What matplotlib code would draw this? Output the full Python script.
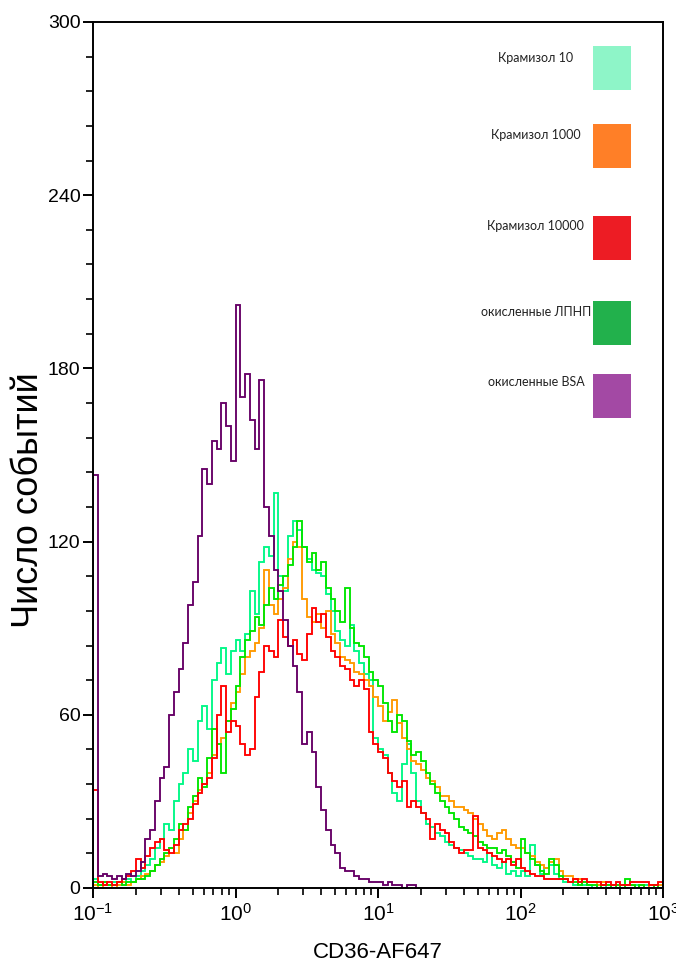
import numpy as np
import matplotlib
matplotlib.use('Agg')
import matplotlib.pyplot as plt
from matplotlib.ticker import MultipleLocator, LogLocator, NullFormatter
from matplotlib.patches import Rectangle

# Гистограммы CD36-AF647: 30 каналов на декаду, от 10^-1 до 10^3
edges = np.logspace(-1, 3, 121)

kramizol_10 = [
    3, 1, 2, 1, 2, 1, 2, 3, 2, 4,
    6, 8, 10, 14, 17, 22, 20, 30, 36, 40,
    48, 44, 58, 63, 55, 72, 78, 83, 74, 82,
    86, 82, 88, 103, 95, 113, 118, 115, 137, 108,
    103, 122, 127, 124, 118, 114, 110, 109, 108, 102,
    96, 89, 86, 84, 91, 82, 78, 74, 72, 52,
    48, 46, 40, 33, 30, 43, 50, 40, 30, 26,
    22, 21, 19, 18, 16, 15, 14, 13, 12, 11,
    10, 10, 9, 12, 8, 7, 9, 5, 6, 4,
    6, 4, 15, 8, 5, 7, 8, 5, 3, 2,
    2, 1, 2, 1, 1, 0, 1, 1, 0, 1,
    0, 1, 0, 0, 1, 0, 1, 0, 1, 1,
]

kramizol_1000 = [
    1, 0, 1, 1, 0, 1, 2, 1, 2, 3,
    4, 5, 6, 8, 9, 11, 14, 12, 17, 20,
    26, 30, 34, 36, 40, 46, 50, 52, 58, 64,
    68, 74, 80, 82, 85, 90, 110, 98, 95, 100,
    104, 114, 120, 118, 100, 94, 92, 95, 90, 96,
    88, 85, 80, 79, 78, 75, 74, 72, 70, 66,
    63, 58, 61, 65, 57, 52, 48, 44, 43, 41,
    38, 37, 35, 32, 32, 30, 28, 28, 27, 26,
    24, 22, 20, 18, 17, 19, 20, 17, 15, 14,
    14, 12, 11, 9, 8, 7, 9, 10, 6, 4,
    4, 3, 3, 2, 2, 2, 1, 2, 1, 1,
    1, 0, 1, 1, 0, 1, 0, 1, 0, 1,
]

kramizol_10000 = [
    34, 2, 1, 2, 1, 2, 3, 4, 6, 10,
    7, 11, 14, 16, 17, 13, 12, 15, 20, 22,
    24, 29, 33, 36, 38, 45, 60, 70, 54, 58,
    56, 50, 46, 48, 66, 75, 84, 82, 80, 93,
    87, 84, 86, 81, 79, 88, 97, 92, 95, 87,
    82, 80, 77, 76, 72, 70, 72, 69, 54, 50,
    47, 45, 40, 37, 35, 37, 28, 30, 28, 26,
    24, 17, 22, 20, 19, 16, 14, 12, 13, 13,
    25, 14, 13, 12, 11, 10, 9, 10, 8, 10,
    7, 6, 5, 4, 4, 3, 3, 3, 3, 3,
    2, 3, 2, 3, 2, 2, 2, 1, 2, 1,
    2, 1, 1, 2, 2, 2, 2, 1, 1, 2,
]

ox_ldl = [
    2, 1, 2, 1, 1, 2, 1, 2, 2, 3,
    3, 4, 6, 8, 10, 12, 14, 17, 22, 20,
    28, 32, 38, 35, 45, 55, 50, 40, 58, 62,
    70, 80, 86, 89, 94, 91, 98, 104, 100, 105,
    108, 112, 118, 127, 118, 113, 116, 110, 113, 104,
    100, 96, 92, 104, 90, 85, 84, 80, 75, 72,
    70, 64, 58, 54, 60, 58, 51, 46, 47, 44,
    40, 36, 33, 30, 28, 26, 24, 21, 20, 19,
    18, 16, 15, 14, 14, 12, 13, 11, 9, 7,
    17, 12, 10, 8, 6, 5, 10, 8, 4, 3,
    2, 2, 1, 2, 1, 1, 0, 1, 1, 0,
    1, 0, 3, 1, 0, 1, 0, 0, 1, 0,
]

ox_bsa = [
    143, 4, 5, 4, 3, 4, 3, 5, 4, 6,
    9, 17, 20, 30, 38, 42, 60, 68, 76, 85,
    98, 106, 122, 145, 140, 155, 152, 168, 160, 148,
    202, 170, 178, 162, 152, 176, 132, 122, 110, 103,
    93, 84, 77, 68, 50, 54, 47, 35, 27, 20,
    15, 12, 7, 6, 6, 4, 3, 3, 2, 2,
    2, 1, 2, 1, 1, 0, 1, 1, 0, 0,
    0, 0, 0, 0, 0, 0, 0, 0, 0, 0,
    0, 0, 0, 0, 0, 0, 0, 0, 0, 0,
    0, 0, 0, 0, 0, 0, 0, 0, 0, 0,
    0, 0, 0, 0, 0, 0, 0, 0, 0, 0,
    0, 0, 0, 0, 0, 0, 0, 0, 0, 0,
]

legend_labels = ['Крамизол 10', 'Крамизол 1000', 'Крамизол 10000',
                 'окисленные ЛПНП', 'окисленные BSA']
legend_colors = ['#8EF5C8', '#FF7F27', '#ED1C24', '#22B14C', '#A349A4']

y_ticks = [0, 60, 120, 180, 240, 300]

plt.rcParams['font.family'] = ['Liberation Sans', 'DejaVu Sans']
plt.rcParams['mathtext.fontset'] = 'custom'
plt.rcParams['mathtext.rm'] = 'Liberation Sans'
plt.rcParams['mathtext.it'] = 'Liberation Sans'

fig = plt.figure(figsize=(6.76, 9.65), dpi=100)
ax = fig.add_axes([93 / 676, 77 / 965, 570 / 676, 866 / 965])

# порядок отрисовки: фиолетовая кривая поверх остальных
series = [
    (kramizol_10, '#00F886'),
    (kramizol_1000, '#FF9900'),
    (ox_ldl, '#00E600'),
    (kramizol_10000, '#FF0000'),
    (ox_bsa, '#660066'),
]
for vals, col in series:
    ax.stairs(vals, edges, color=col, linewidth=1.35)

ax.set_xscale('log')
ax.set_xlim(0.1, 1000)
ax.set_ylim(0, 300)
ax.set_yticks(y_ticks)
ax.yaxis.set_minor_locator(MultipleLocator(12))
ax.xaxis.set_minor_locator(LogLocator(base=10, subs=np.arange(2, 10)))
ax.xaxis.set_minor_formatter(NullFormatter())

for sp in ax.spines.values():
    sp.set_linewidth(1.4)
    sp.set_color('black')
ax.tick_params(which='major', direction='out', length=7, width=1.4, labelsize=14, pad=2)
ax.tick_params(which='minor', direction='out', length=5, width=1.2)
ax.tick_params(axis='x', which='major', labelsize=15, pad=4)

ax.set_xlabel('CD36-AF647', fontsize=16, labelpad=12)
ax.set_ylabel('Число событий', fontsize=26, va='center')
ax.yaxis.set_label_coords(-0.114, 0.448)

# легенда: подписи и цветные квадраты
text_y = [0.958, 0.8695, 0.7644, 0.665, 0.5843]
box_y = [0.9215, 0.8314, 0.7252, 0.627, 0.5427]
for lab, col, ty, by in zip(legend_labels, legend_colors, text_y, box_y):
    ax.text(0.777, ty, lab, transform=ax.transAxes, ha='center', va='center',
            fontsize=9, family=['Lato', 'DejaVu Sans'], color='#222222')
    ax.add_patch(Rectangle((0.877, by), 0.0667, 0.0508, transform=ax.transAxes,
                           facecolor=col, edgecolor='none'))

fig.savefig('out.png', dpi=100)
